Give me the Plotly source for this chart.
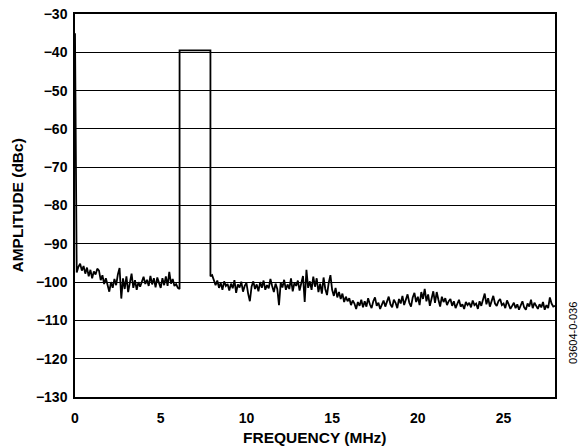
import numpy as np
import plotly.graph_objects as go

# --- data (MHz / dBc) ---
# spike at DC
dc_freq = [0.0]
dc_amp = [-35.0]

# noise floor below the carrier, 0.1 .. 6.0 MHz
left_amp = [
    -97.5, -96.0, -95.2, -97.0, -95.8, -97.8, -96.2, -98.5, -96.8, -99.0,
    -97.2, -98.0, -96.5, -97.0, -99.5, -98.2, -100.5, -99.0, -101.2, -102.5,
    -100.0, -101.5, -99.2, -100.8, -98.0, -96.3, -104.3, -99.0, -101.8, -98.5,
    -102.6, -100.2, -97.8, -101.5, -99.5, -102.0, -100.0, -101.2, -99.8, -98.6,
    -100.5, -99.4, -101.0, -98.4, -100.6, -99.0, -101.4, -98.8, -100.2, -101.5,
    -99.0, -100.8, -98.5, -101.0, -97.3, -100.4, -99.2, -101.0, -100.5, -101.5,
]
left_freq = np.round(0.1 + 0.1 * np.arange(len(left_amp)), 2)

# carrier block
block_freq = [6.1, 6.1, 7.9, 7.9]
block_amp = [-101.8, -39.5, -39.5, -98.5]

# noise floor above the carrier, 8.0 .. 28.0 MHz
right_amp = [
    -98.2, -99.5, -100.8, -99.6, -101.5, -100.2, -102.0, -99.8, -101.0, -100.5,
    -102.2, -100.4, -101.6, -99.5, -102.8, -100.6, -101.4, -99.9, -102.5, -101.0,
    -100.2, -103.0, -105.0, -101.2, -99.8, -101.8, -100.6, -102.4, -100.0, -101.5,
    -99.6, -102.0, -100.8, -101.6, -99.2, -101.0, -102.6, -100.4, -101.8, -106.0,
    -100.2, -101.4, -99.4, -102.0, -100.6, -101.8, -99.0, -102.4, -100.2, -101.0,
    -99.6, -102.2, -100.4, -98.4, -105.2, -96.8, -101.5, -99.8, -102.0, -98.6,
    -101.2, -99.0, -102.6, -100.4, -103.0, -98.8, -101.8, -103.4, -100.2, -98.2,
    -102.0, -103.6, -101.5, -104.0, -102.6, -104.4, -103.0, -105.2, -103.8, -105.0,
    -104.2, -106.0, -104.8, -105.6, -107.0, -105.2, -106.2, -104.6, -106.6, -105.0,
    -106.4, -104.2, -105.8, -106.8, -105.0, -104.0, -106.2, -105.4, -107.0, -105.6,
    -104.8, -106.4, -105.2, -103.8, -105.8, -106.6, -104.6, -105.4, -106.8, -104.4,
    -105.6, -103.6, -106.0, -104.8, -103.2, -105.4, -106.4, -104.0, -102.8, -105.2,
    -103.8, -106.0, -102.6, -104.4, -101.8, -105.0, -103.2, -106.2, -104.0, -102.4,
    -105.4, -102.6, -104.6, -106.4, -103.8, -105.2, -104.2, -106.0, -105.0, -104.4,
    -106.2, -105.0, -106.8, -105.4, -104.6, -106.4, -105.8, -107.0, -105.2, -106.0,
    -105.4, -106.6, -104.8, -106.0, -105.6, -107.0, -105.0, -106.2, -104.4, -103.0,
    -105.8, -104.2, -106.4, -105.0, -103.6, -105.6, -106.2, -105.0, -104.4, -106.0,
    -105.6, -106.8, -104.8, -105.8, -107.0, -106.2, -105.4, -106.8, -105.8, -107.2,
    -106.2, -105.0, -106.6, -107.2, -105.6, -106.4, -104.6, -106.8, -105.4, -106.2,
    -107.0, -105.8, -106.6, -105.2, -107.2, -106.0, -106.8, -104.0, -105.6, -106.4,
    -106.2,
]
right_freq = np.round(8.0 + 0.1 * np.arange(len(right_amp)), 2)

x_ticks = [0, 5, 10, 15, 20, 25]
y_ticks = [-30, -40, -50, -60, -70, -80, -90, -100, -110, -120, -130]

freq = list(dc_freq) + list(left_freq) + block_freq + list(right_freq)
amp = dc_amp + left_amp + block_amp + right_amp

font_family = "Arial, Liberation Sans, sans-serif"

fig = go.Figure()
fig.add_trace(go.Scatter(
    x=freq, y=amp, mode='lines',
    line=dict(color='black', width=1.8),
    showlegend=False, hoverinfo='skip'
))

fig.update_layout(
    width=588, height=447,
    margin=dict(l=75, r=33, t=14, b=50),
    paper_bgcolor='white', plot_bgcolor='white',
    font=dict(family=font_family, color='black'),
    xaxis=dict(
        range=[0, 28], tickvals=x_ticks,
        showgrid=False, zeroline=False,
        showline=True, linecolor='black', linewidth=1.5, mirror=True,
        ticks='', ticklen=0, ticklabelstandoff=7,
        tickfont=dict(size=14, weight='bold'),
        automargin=False, ticklabeloverflow='allow',
    ),
    yaxis=dict(
        range=[-130, -30], tickvals=y_ticks,
        showgrid=True, gridcolor='black', gridwidth=1.2,
        zeroline=False,
        showline=True, linecolor='black', linewidth=1.5, mirror=True,
        ticks='', ticklen=0, ticklabelstandoff=3,
        tickfont=dict(size=14, weight='bold'),
        automargin=False, ticklabeloverflow='allow',
    ),
)

fig.add_annotation(
    text='FREQUENCY (MHz)', xref='paper', yref='paper',
    x=0.5, y=0, yshift=-40, yanchor='middle', showarrow=False,
    font=dict(size=15.5, weight='bold', family=font_family, color='black'),
)
fig.add_annotation(
    text='AMPLITUDE (dBc)', xref='paper', yref='paper',
    x=0, xshift=-58, y=0.5, xanchor='center', yanchor='middle',
    textangle=-90, showarrow=False,
    font=dict(size=15.5, weight='bold', family=font_family, color='black'),
)
fig.add_annotation(
    text='03604-0-036', xref='paper', yref='paper',
    x=1, xshift=18, y=0.167, xanchor='center', yanchor='middle',
    textangle=-90, showarrow=False,
    font=dict(size=11, family=font_family, color='black'),
)

# drop the browser's default body margin so the figure fills the window
fig.write_html(
    "out.html",
    config={'displayModeBar': False},
    post_script="document.body.style.margin='0px';",
)
